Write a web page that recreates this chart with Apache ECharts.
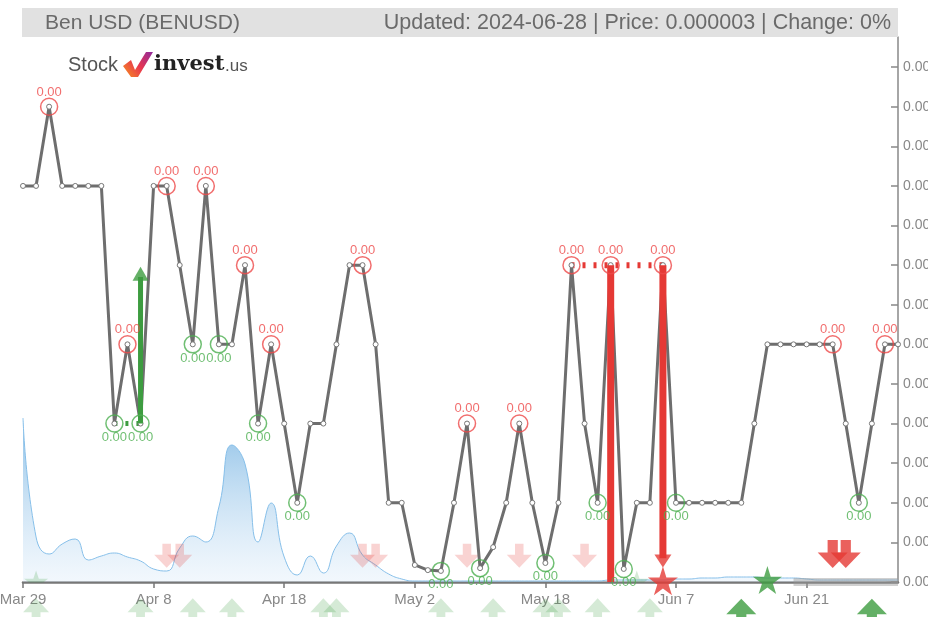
<!DOCTYPE html>
<html>
<head>
<meta charset="utf-8">
<title>Ben USD (BENUSD)</title>
<script src="https://cdn.jsdelivr.net/npm/echarts@6/dist/echarts.min.js"></script>
<style>
html, body { margin: 0; padding: 0; background: #fff; }
#main { width: 928px; height: 617px; }
</style>
</head>
<body>
<div id="main"></div>
<script>
// category axis: days with a quote
const dates = [
  'Mar 29', 'Mar 30', 'Mar 31', 'Apr 1', 'Apr 2', 'Apr 3', 'Apr 4', 'Apr 5', 'Apr 6', 'Apr 7',
  'Apr 8', 'Apr 9', 'Apr 10', 'Apr 11', 'Apr 12', 'Apr 13', 'Apr 14', 'Apr 15', 'Apr 16', 'Apr 17',
  'Apr 18', 'Apr 19', 'Apr 20', 'Apr 22', 'Apr 23', 'Apr 25', 'Apr 26', 'Apr 28', 'Apr 29', 'May 1',
  'May 2', 'May 3', 'May 4', 'May 6', 'May 7', 'May 9', 'May 10', 'May 12', 'May 14', 'May 16',
  'May 18', 'May 20', 'May 22', 'May 24', 'May 26', 'May 28', 'May 30', 'Jun 1', 'Jun 3', 'Jun 5',
  'Jun 7', 'Jun 8', 'Jun 9', 'Jun 11', 'Jun 12', 'Jun 14', 'Jun 15', 'Jun 17', 'Jun 18', 'Jun 20',
  'Jun 21', 'Jun 22', 'Jun 23', 'Jun 24', 'Jun 25', 'Jun 26', 'Jun 27', 'Jun 28'
]

// closing price x 1e7
const priceE7 = [
  34, 34, 36, 34, 34, 34, 34, 28, 30, 28,
  34, 34, 32, 30, 34, 30, 30, 32, 28, 30,
  28, 26, 28, 28, 30, 32, 32, 30, 26, 26,
  24.43, 24.3, 24.28, 26, 28, 24.35, 24.88, 26, 28, 26,
  24.48, 26, 32, 28, 26, 32, 24.33, 26, 26, 32,
  26, 26, 26, 26, 26, 26, 28, 30, 30, 30,
  30, 30, 30, 28, 26, 28, 30, 30
]

// volume (relative units)
const volume = [
  164, 45, 28, 38, 43, 22, 26, 29, 25, 21,
  13, 11, 34, 46, 40, 75, 137, 118, 40, 79,
  25, 7, 26, 9, 36, 49, 27, 17, 8, 3,
  1, 1, 1, 1, 1, 1, 1, 1, 1, 1,
  1, 1, 1, 1, 1, 2, 2, 2, 2, 2,
  3, 3, 4, 4, 5, 5, 5, 4, 4, 4,
  3, 2, 2, 2, 2, 2, 2, 2
]

const peakIdx = [2, 8, 11, 14, 17, 19, 26, 34, 38, 42, 45, 49, 62, 66]
const troughIdx = [7, 9, 13, 15, 18, 21, 32, 35, 40, 44, 46, 50, 64]
const sellFaintIdx = [11, 12, 26, 27, 34, 38, 43]
const sellIdx = [62, 63]
const buyFaintIdx = [1, 9, 13, 16, 23, 24, 32, 36, 40, 41, 44, 48]
const buyIdx = [55, 65]
const starFaintIdx = [1, 47]

const RED = '#e53935'
const GREEN = '#3d9c40'
const STAR = 'path://M50,0 L61,35 L98,35 L68,57 L79,91 L50,70 L21,91 L32,57 L2,35 L39,35 Z'
const HALF_STAR = 'path://M50,0 L61,35 L98,35 L78,50 L22,50 L2,35 L39,35 Z'
const DOWN = 'path://M33,0 L67,0 L67,45 L100,45 L50,100 L0,45 L33,45 Z'
const UP = 'path://M50,0 L100,52 L67,52 L67,100 L33,100 L33,52 L0,52 Z'

const fmt2 = p => (p.value[1] / 1e7).toFixed(2)

function marks(idx, y, symbol, size, color, z) {
  return {
    type: 'scatter',
    clip: false,
    symbol: symbol,
    symbolSize: size,
    itemStyle: { color: color },
    z: z || 4,
    silent: true,
    data: idx.map(i => [i, y])
  }
}

function seg(points, color, width, type, z) {
  return {
    type: 'line',
    symbol: 'none',
    lineStyle: { color: color, width: width, type: type || 'solid', cap: 'butt' },
    z: z || 5,
    silent: true,
    data: points
  }
}

const chart = echarts.init(document.getElementById('main'))
chart.setOption({
  animation: false,
  backgroundColor: '#fff',
  grid: { left: 23, right: 30, top: 37, bottom: 35, containLabel: false, outerBoundsMode: 'none' },
  xAxis: {
    type: 'category',
    data: dates,
    boundaryGap: false,
    axisLine: { lineStyle: { color: '#777', width: 2.5 } },
    axisTick: { interval: 9, length: 6, lineStyle: { color: '#777', width: 1.5 } },
    axisLabel: { interval: 9, color: '#888', fontSize: 15, margin: 10, fontFamily: 'Liberation Sans' },
    splitLine: { show: false }
  },
  yAxis: [
    {
      type: 'value',
      position: 'right',
      min: 24,
      max: 37.76,
      interval: 1,
      axisLine: { show: true, lineStyle: { color: '#888', width: 1.5 } },
      axisTick: { show: true, inside: true, length: 7, lineStyle: { color: '#888', width: 1.5 } },
      axisLabel: {
        color: '#888',
        fontSize: 14,
        margin: 5,
        fontFamily: 'Liberation Sans',
        showMaxLabel: false,
        formatter: v => (v / 1e7).toFixed(7)
      },
      splitLine: { show: false }
    },
    { type: 'value', min: 0, max: 545, show: false }
  ],
  graphic: [
    { type: 'rect', shape: { x: 22, y: 8, width: 876, height: 29 }, style: { fill: '#e1e1e1' }, z: 10 },
    {
      type: 'text', x: 45, y: 23, z: 11,
      style: { text: 'Ben USD (BENUSD)', fill: '#6a6a6a', font: '21px "Liberation Sans"', verticalAlign: 'middle' }
    },
    {
      type: 'text', x: 891, y: 23, z: 11,
      style: {
        text: 'Updated: 2024-06-28 | Price: 0.000003 | Change: 0%',
        fill: '#6a6a6a', font: '21.5px "Liberation Sans"', align: 'right', verticalAlign: 'middle'
      }
    },
    {
      type: 'text', x: 68, y: 65, z: 11,
      style: { text: 'Stock', fill: '#555', font: '20px "Liberation Sans Narrow", "Liberation Sans"', verticalAlign: 'middle' }
    },
    {
      type: 'polygon', z: 11,
      shape: { points: [[123, 66], [131, 60], [135, 70], [146, 52], [153, 52], [138, 77], [131, 77]] },
      style: {
        fill: new echarts.graphic.LinearGradient(0, 1, 1, 0, [
          { offset: 0, color: '#f7931e' },
          { offset: 0.5, color: '#e8364f' },
          { offset: 1, color: '#8e2a9e' }
        ])
      }
    },
    {
      type: 'text', x: 154, y: 65, z: 11,
      style: { text: 'invest', fill: '#222', font: 'bold 21px "DejaVu Serif"', verticalAlign: 'middle' }
    },
    {
      type: 'text', x: 225, y: 66, z: 11,
      style: { text: '.us', fill: '#555', font: '17px "Liberation Sans"', verticalAlign: 'middle' }
    }
  ],
  series: [
    {
      name: 'Volume',
      type: 'line',
      yAxisIndex: 1,
      smooth: true,
      symbol: 'none',
      silent: true,
      z: 1,
      lineStyle: { color: '#86bfe9', width: 1 },
      areaStyle: {
        color: new echarts.graphic.LinearGradient(0, 0, 0, 1, [
          { offset: 0, color: '#5aa4dc' },
          { offset: 1, color: 'rgba(214,232,248,0.45)' }
        ])
      },
      data: volume
    },
    // faint signals
    marks(sellFaintIdx, 24.66, DOWN, [25, 24], 'rgba(229,57,53,0.28)', 2),
    marks(buyFaintIdx, 23.25, UP, [26, 27], 'rgba(67,160,71,0.28)', 2),
    marks(starFaintIdx, 24.14, HALF_STAR, [24, 12], 'rgba(67,160,71,0.28)', 2),
    // signal lines
    seg([[7, 28], [9, 28]], GREEN, 5, [3, 8], 2),
    seg([[42, 32], [49, 32]], RED, 6, [3, 8], 2),
    {
      name: 'Price',
      type: 'line',
      z: 3,
      symbol: 'circle',
      symbolSize: 5,
      itemStyle: { color: '#fff', borderColor: '#777', borderWidth: 1 },
      lineStyle: { color: '#6e6e6e', width: 3 },
      data: priceE7
    },
    seg([[9, 28], [9, 31.7]], GREEN, 5),
    seg([[45, 32], [45, 24]], RED, 7),
    seg([[49, 32], [49, 24.6]], RED, 7),
    marks([9], 31.78, 'triangle', [16, 14], GREEN, 6),
    { ...marks([49], 24.53, 'triangle', [17, 13], RED, 6), symbolRotate: 180 },
    marks([49], 24.03, STAR, [30, 29], RED, 6),
    marks([57], 24.05, STAR, [29, 28], GREEN, 6),
    seg([[58.6, 24], [67, 24]], 'rgba(150,150,150,0.45)', 8, 'solid', 2),
    marks(sellIdx, 24.71, DOWN, [30, 28], RED, 6),
    marks(buyIdx, 23.2, UP, [30, 30], GREEN, 6),
    {
      type: 'scatter',
      z: 7,
      silent: true,
      symbol: 'circle',
      symbolSize: 17,
      itemStyle: { color: 'rgba(0,0,0,0)', borderColor: '#ee4a4a', borderWidth: 1.5 },
      label: { show: true, position: 'top', distance: -1, formatter: fmt2, color: '#ee4a4a', fontSize: 13, fontFamily: 'Liberation Sans' },
      data: peakIdx.map(i => [i, priceE7[i]])
    },
    {
      type: 'scatter',
      z: 7,
      silent: true,
      symbol: 'circle',
      symbolSize: 17,
      itemStyle: { color: 'rgba(0,0,0,0)', borderColor: '#4caf50', borderWidth: 1.5 },
      label: { show: true, position: 'bottom', distance: -2, formatter: fmt2, color: '#4caf50', fontSize: 13, fontFamily: 'Liberation Sans' },
      data: troughIdx.map(i => [i, priceE7[i]])
    }
  ]
})
</script>
</body>
</html>
